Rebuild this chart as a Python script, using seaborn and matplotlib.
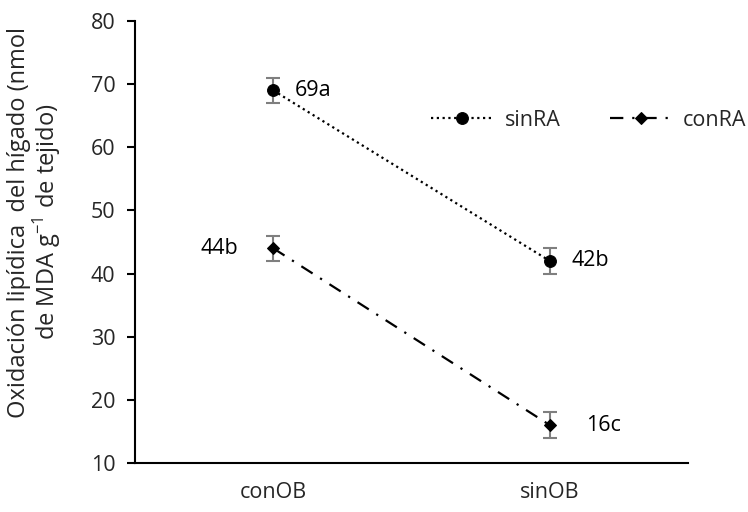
import matplotlib
matplotlib.use("Agg")
import matplotlib.pyplot as plt
import seaborn as sns
import pandas as pd

# Data
grupos = ["conOB", "sinOB"]
sinRA = [69, 42]
conRA = [44, 16]
err_sinRA = [2, 2]
err_conRA = [2, 2]
letras_sinRA = ["a", "b"]
letras_conRA = ["b", "c"]

FS = 15.5

sns.set_theme(style="white")
plt.rcParams["font.family"] = ["Open Sans", "DejaVu Sans"]
plt.rcParams["mathtext.fontset"] = "custom"
plt.rcParams["mathtext.rm"] = "Open Sans"

fig = plt.figure(figsize=(7.48, 5.12), dpi=100)
ax = fig.add_axes([0.1805, 0.0957, 0.7394, 0.8633])

series = [
    ("sinRA", sinRA, err_sinRA, letras_sinRA, "o", 8.5, (0, (1, 1.6))),
    ("conRA", conRA, err_conRA, letras_conRA, "D", 6.5, (0, (6, 4, 1, 4))),
]

for nombre, vals, errs, letras, mk, ms, ls in series:
    df = pd.DataFrame({"grupo": grupos, "valor": vals})
    sns.lineplot(data=df, x="grupo", y="valor", ax=ax, color="black",
                 marker=mk, markersize=ms, markeredgecolor="black",
                 linestyle=ls, linewidth=1.6, label=nombre, sort=False,
                 zorder=3)
    ax.errorbar(range(len(grupos)), vals, yerr=errs, fmt="none",
                ecolor="#7f7f7f", elinewidth=1.5, capsize=5, capthick=1.5,
                zorder=2)

# Value labels with significance letters
offsets = {
    ("sinRA", 0): (21, "left"),
    ("sinRA", 1): (22, "left"),
    ("conRA", 0): (-35, "right"),
    ("conRA", 1): (36, "left"),
}
for nombre, vals, errs, letras, *_ in series:
    for i, (v, l) in enumerate(zip(vals, letras)):
        dx, ha = offsets[(nombre, i)]
        ax.annotate(f"{v}{l}", xy=(i, v), xytext=(dx, 0),
                    textcoords="offset pixels", ha=ha, va="center",
                    fontsize=FS, color="black")

ax.set_xlim(-0.5, 1.5)
ax.set_ylim(10, 80)
ax.set_yticks(range(10, 81, 10))
ax.set_xlabel("")
ax.set_ylabel("Oxidación lipídica  del hígado (nmol\nde MDA g$^{-1}$ de tejido)",
              fontsize=17, multialignment="center", color="#262626",
              linespacing=1.0)
ax.yaxis.set_label_coords(-0.13, 0.545)

for side in ["top", "right"]:
    ax.spines[side].set_visible(False)
for side in ["left", "bottom"]:
    ax.spines[side].set_color("black")
    ax.spines[side].set_linewidth(1.5)

ax.tick_params(axis="y", which="major", left=True, length=6, width=1.5,
               color="black", labelsize=FS, pad=8, labelcolor="#262626")
ax.tick_params(axis="x", which="major", bottom=False, length=0,
               labelsize=FS, pad=14, labelcolor="#262626")

leg = ax.legend(ncol=2, frameon=False, loc="center left",
                bbox_to_anchor=(0.52, 0.776), fontsize=FS,
                handlelength=2.9, handletextpad=0.5, columnspacing=2.3,
                borderaxespad=0)
for t in leg.get_texts():
    t.set_color("#262626")

fig.savefig("out.png", dpi=100)
